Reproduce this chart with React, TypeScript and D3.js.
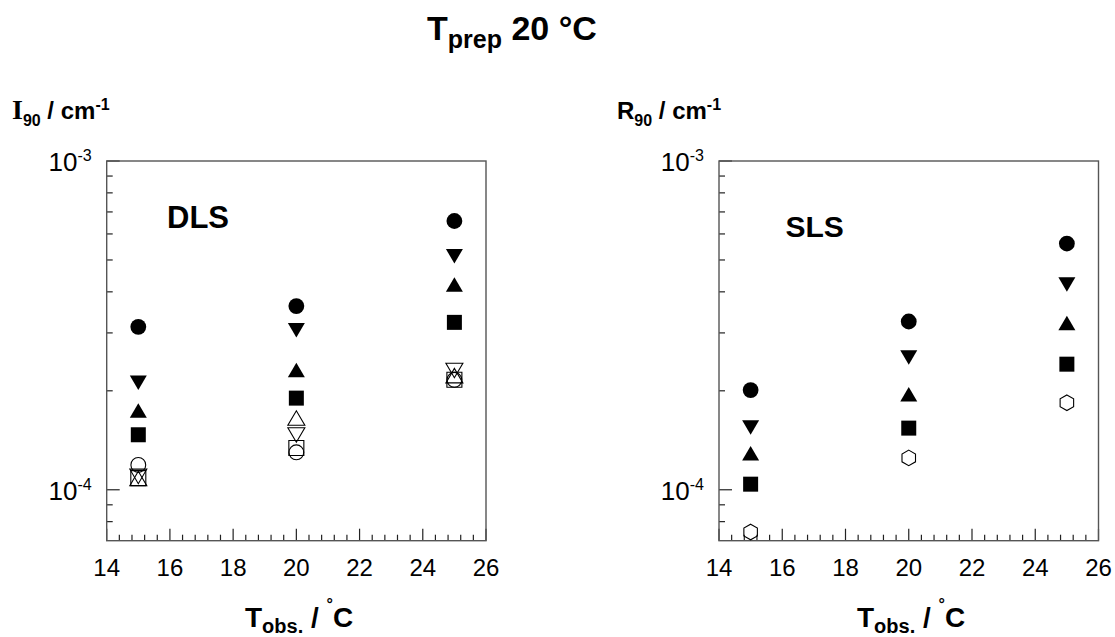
import React from 'react';
import * as d3 from 'd3';

// observation temperatures (°C)
const T_OBS = [15, 20, 25];

// DLS panel, I90 / cm^-1
const DLS_FILLED_CIRCLE = [3.13e-4, 3.62e-4, 6.57e-4];
const DLS_FILLED_DOWN = [2.12e-4, 3.06e-4, 5.14e-4];
const DLS_FILLED_UP = [1.74e-4, 2.31e-4, 4.2e-4];
const DLS_FILLED_SQUARE = [1.47e-4, 1.9e-4, 3.23e-4];
const DLS_OPEN_UP = [1.08e-4, 1.65e-4, 2.22e-4];
const DLS_OPEN_DOWN = [1.1e-4, 1.47e-4, 2.31e-4];
const DLS_OPEN_SQUARE = [1.085e-4, 1.34e-4, 2.16e-4];
const DLS_OPEN_CIRCLE = [1.19e-4, 1.3e-4, 2.16e-4];

// SLS panel, R90 / cm^-1
const SLS_FILLED_CIRCLE = [2.01e-4, 3.25e-4, 5.61e-4];
const SLS_FILLED_DOWN = [1.55e-4, 2.53e-4, 4.22e-4];
const SLS_FILLED_UP = [1.29e-4, 1.95e-4, 3.21e-4];
const SLS_FILLED_SQUARE = [1.04e-4, 1.54e-4, 2.41e-4];
const SLS_OPEN_HEX = [7.44e-5, 1.25e-4, 1.84e-4];

const X_DOMAIN = [14, 26];
const Y_DOMAIN = [7e-5, 1e-3];
const X_MINOR_STEP = 0.4;

type Shape = 'circle' | 'down' | 'up' | 'square' | 'hex';
interface Series { values: number[]; shape: Shape; filled: boolean; }

const DLS_SERIES: Series[] = [
  { values: DLS_OPEN_UP, shape: 'up', filled: false },
  { values: DLS_OPEN_DOWN, shape: 'down', filled: false },
  { values: DLS_OPEN_SQUARE, shape: 'square', filled: false },
  { values: DLS_OPEN_CIRCLE, shape: 'circle', filled: false },
  { values: DLS_FILLED_SQUARE, shape: 'square', filled: true },
  { values: DLS_FILLED_UP, shape: 'up', filled: true },
  { values: DLS_FILLED_DOWN, shape: 'down', filled: true },
  { values: DLS_FILLED_CIRCLE, shape: 'circle', filled: true },
];

const SLS_SERIES: Series[] = [
  { values: SLS_OPEN_HEX, shape: 'hex', filled: false },
  { values: SLS_FILLED_SQUARE, shape: 'square', filled: true },
  { values: SLS_FILLED_UP, shape: 'up', filled: true },
  { values: SLS_FILLED_DOWN, shape: 'down', filled: true },
  { values: SLS_FILLED_CIRCLE, shape: 'circle', filled: true },
];

const SANS = '"Liberation Sans", Arial, sans-serif';
const SERIF = '"Liberation Serif", "Times New Roman", serif';

const markerPath = (shape: Shape): string => {
  switch (shape) {
    case 'down':
      return 'M-8.5,-7L8.5,-7L0,7.5Z';
    case 'up':
      return 'M-8.5,7L8.5,7L0,-7.5Z';
    case 'square':
      return 'M-7.5,-7.5H7.5V7.5H-7.5Z';
    case 'hex': {
      const pts = d3.range(6).map(i => {
        const a = (Math.PI / 3) * i - Math.PI / 2;
        return [7.8 * Math.cos(a), 7.8 * Math.sin(a)];
      });
      return 'M' + pts.map(p => p.join(',')).join('L') + 'Z';
    }
    default:
      return '';
  }
};

interface PanelProps {
  left: number;
  right: number;
  top: number;
  bottom: number;
  series: Series[];
  tag: string;
  tagX: number;
  tagY: number;
  tagSize: number;
}

const Panel: React.FC<PanelProps> = ({ left, right, top, bottom, series, tag, tagX, tagY, tagSize }) => {
  const x = d3.scaleLinear().domain(X_DOMAIN).range([left, right]);
  const y = d3.scaleLog().domain(Y_DOMAIN).range([bottom, top]);

  const xMajor = x.ticks(6);
  const xMinor = d3.range(X_DOMAIN[0], X_DOMAIN[1] + 1e-6, X_MINOR_STEP)
    .filter(v => !xMajor.some(m => Math.abs(m - v) < 1e-6));
  const yTicks = y.ticks().filter(v => v > Y_DOMAIN[0] * 1.001);
  const isPow10 = (v: number) => Math.abs(Math.log10(v) - Math.round(Math.log10(v))) < 1e-6;

  return (
    <g>
      {/* ticks */}
      <g stroke="#222" strokeWidth={1.2}>
        {xMinor.map((v, i) => (
          <line key={'xm' + i} x1={x(v)} x2={x(v)} y1={bottom} y2={bottom - 6} />
        ))}
        {xMajor.map((v, i) => (
          <line key={'xM' + i} x1={x(v)} x2={x(v)} y1={bottom} y2={bottom - 12} />
        ))}
        {yTicks.map((v, i) => (
          <line key={'y' + i} x1={left} x2={left + (isPow10(v) ? 13 : 6)} y1={y(v)} y2={y(v)} />
        ))}
      </g>
      {/* frame */}
      <rect x={left} y={top} width={right - left} height={bottom - top} fill="none" stroke="#555" strokeWidth={1.4} />

      {/* x tick labels */}
      {xMajor.map((v, i) => (
        <text key={'xl' + i} x={x(v)} y={bottom + 35} textAnchor="middle" fontFamily={SANS} fontSize={24} fill="#000">
          {v}
        </text>
      ))}
      {/* y tick labels */}
      {yTicks.filter(isPow10).map((v, i) => (
        <text key={'yl' + i} x={left - 15} y={y(v) + 10} textAnchor="end" fontFamily={SANS} fontSize={26} fill="#000">
          10<tspan fontSize={16} dy={-10}>{Math.round(Math.log10(v))}</tspan>
        </text>
      ))}

      {/* markers */}
      {series.map((s, si) => (
        <g key={'s' + si}>
          {s.values.map((v, i) =>
            s.shape === 'circle' ? (
              <circle key={i} cx={x(T_OBS[i])} cy={y(v)} r={s.filled ? 7.9 : 7.4}
                fill={s.filled ? '#000' : 'none'} stroke="#000" strokeWidth={s.filled ? 0 : 1.1} />
            ) : (
              <path key={i} d={markerPath(s.shape)} transform={`translate(${x(T_OBS[i])},${y(v)})`}
                fill={s.filled ? '#000' : 'none'} stroke="#000" strokeWidth={s.filled ? 0 : 1.1} />
            )
          )}
        </g>
      ))}

      <text x={tagX} y={tagY} fontFamily={SANS} fontWeight="bold" fontSize={tagSize} fill="#000">{tag}</text>
    </g>
  );
};

const App: React.FC = () => {
  return (
    <svg width={1115} height={637} style={{ position: 'absolute', left: 0, top: 0, background: '#fff' }}>
      {/* title */}
      <text x={427} y={40} fontFamily={SANS} fontWeight="bold" fontSize={34} fill="#000">
        T<tspan fontSize={25} dy={8}>prep</tspan><tspan dy={-8}> 20 °C</tspan>
      </text>

      {/* y axis titles */}
      <text x={12} y={119} fontFamily={SANS} fontWeight="bold" fontSize={24} fill="#000">
        <tspan fontFamily={SERIF} fontSize={28}>I</tspan>
        <tspan fontSize={16} dy={7}>90</tspan>
        <tspan dy={-7}> / cm</tspan>
        <tspan fontSize={16} dy={-9}>-1</tspan>
      </text>
      <text x={617} y={119} fontFamily={SANS} fontWeight="bold" fontSize={24} fill="#000">
        R<tspan fontSize={16} dy={7}>90</tspan>
        <tspan dy={-7}> / cm</tspan>
        <tspan fontSize={16} dy={-9}>-1</tspan>
      </text>

      <Panel left={106.7} right={486} top={161} bottom={540.7} series={DLS_SERIES}
        tag="DLS" tagX={167} tagY={228} tagSize={31} />
      <Panel left={719} right={1098.5} top={161} bottom={540.7} series={SLS_SERIES}
        tag="SLS" tagX={785.5} tagY={237} tagSize={30} />

      {/* x axis titles */}
      {[245, 857].map((tx, i) => (
        <text key={i} x={tx} y={626.7} fontFamily={SANS} fontWeight="bold" fontSize={28} fill="#000">
          T<tspan fontSize={20} dy={6.3}>obs.</tspan>
          <tspan dy={-6.3}> / </tspan>
          <tspan fontSize={16} dy={-17}>°</tspan>
          <tspan dy={17}>C</tspan>
        </text>
      ))}
    </svg>
  );
};

export default App;
